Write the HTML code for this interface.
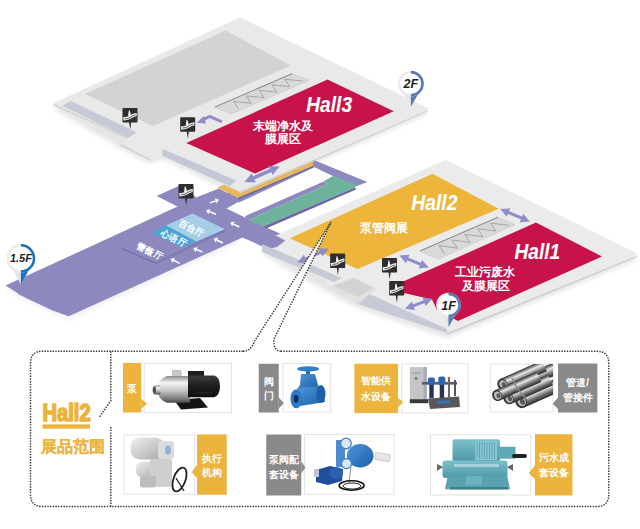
<!DOCTYPE html>
<html><head><meta charset="utf-8">
<style>
html,body{margin:0;padding:0;background:#fff;}
body{width:640px;height:529px;overflow:hidden;position:relative;font-family:"Liberation Sans",sans-serif;}
svg{position:absolute;left:0;top:0;}
</style></head><body>
<svg width="640" height="529" viewBox="0 0 640 529">
<defs><filter id="blur3" x="-10%" y="-10%" width="120%" height="130%"><feGaussianBlur stdDeviation="2.5"/></filter></defs>
<polygon points="53.75,106 240,20.5 427.5,111 427.5,114 240,196 162.5,159 150.5,164 120.5,148.5 54,109" fill="#000" opacity="0.10" filter="url(#blur3)"/>
<polygon points="270,242 445.8,164 636.5,257 636.5,260 447,338 357.5,308 325.8,291 262,254" fill="#000" opacity="0.10" filter="url(#blur3)"/>
<polygon points="5.5,289 177.5,210 242.5,241 68.75,320 17.5,297" fill="#000" opacity="0.06" filter="url(#blur3)"/>
<!-- ===== purple network ===== -->
<polygon points="5.5,285.5 177.5,206.6 156.6,196.1 183,184 196,197.6 219,188.5 234.5,197 239,201.6 226.6,208.6 245,217.5 285.2,236 285.2,241.4 276.6,246.9 242.5,237.5 68.75,316.25 52.5,310.5 48.75,308.75 18.75,294.5 17.5,293" fill="#8d89bf"/>
<polygon points="226,193 313.2,159.8 367.4,182 355.8,186.5 332.8,176 314.6,167.2 239,202.6" fill="#8d89bf"/>
<polygon points="245,216.2 323.5,181.4 327.35,184.15 247.5,220.8" fill="#8d89bf"/>
<polygon points="247.5,220.8 327.35,184.15 323.5,181.4 332.8,176 355.8,184.3 355,187.5 263.75,226.25" fill="#6db39b"/>
<polygon points="263.75,226.25 355,187.5 356,189.5 266,228.5" fill="#6b67a0"/>
<!-- rooms -->
<polygon points="192.5,213.4 225,229.3 196.3,241.4 166,225.5" fill="#a6cfe7"/>
<polygon points="166,225.5 196.3,241.4 182.7,247.5 152,233" fill="#4aa5d6"/>
<polygon points="152,233 182.7,247.5 155,262.5 121.25,247.5" fill="#8d89bf"/>
<polygon points="121.25,247.5 155,262.5 156,264 122,249" fill="#6e6aa6"/>
<polygon points="155,262.5 225,229.3 226,231 156,264" fill="#7d79b2"/>
<!-- yellow strip -->
<polygon points="217.5,187.5 300,152 313,161 313,166 238,198" fill="#e9b75b"/>
<polygon points="238,198 313,166 313,167.3 238.5,199.5" fill="#6b67a0"/>
<!-- ===== Top floor (Hall3) ===== -->
<polygon points="53.75,103 240,17.5 427.5,108 427.5,110.5 240,192 162.5,155.5 150.5,160.5 120.5,145 120.5,143.5 128,139 54,105.5" fill="#e9e9e9"/>
<polygon points="427.5,110.5 240,192 240,193.5 427.5,111.5" fill="#cfcfcf"/>
<polyline points="53.9,104.6 128,138.4" fill="none" stroke="#d0d0d0" stroke-width="1.3"/>
<polyline points="120.5,144.6 150.5,160" fill="none" stroke="#cdcdcd" stroke-width="1.3"/>
<polygon points="85,94 225.5,30.5 291,65.5 153,126" fill="#d3d3d3"/>
<polygon points="70.8,101.1 137,132.5 128,137.8 62.2,105.8" fill="#c6c9d6"/>
<polygon points="162.5,148.8 236,180.5 230,186.3 162.5,155.8" fill="#c4c7d4"/>
<polygon points="215,107 292,73.7 309.2,80.3 231.3,113.9" fill="#d9d9d9"/><line x1="215" y1="107" x2="292" y2="73.7" stroke="#8c8c8c" stroke-width="1.1"/><polyline points="292,73.7 309.2,80.3 231.3,113.9 215,107" fill="none" stroke="#c4c4c4" stroke-width="0.6"/><polyline points="238.19,108.84 233.60,101.47 251.10,103.27 246.41,95.93 264.00,97.70 259.22,90.40 276.91,92.13 272.02,84.86 289.82,86.56 284.83,79.32 302.73,80.99" fill="none" stroke="#8f8f8f" stroke-width="0.7"/>
<polygon points="186.25,143 327.5,79.5 393.75,111.25 255,173.5" fill="#c8124a"/>
<!-- ===== Hall2/Hall1 floor ===== -->
<polygon points="270,238 445.8,160 636.5,253 636.5,256 447,333 357.5,303.9 325.8,287 329,282 262,250" fill="#ebebeb"/>
<polygon points="240,230 245,217.5 263.5,229.3 285.2,240.6 277,247 268,249 242.5,237.5" fill="#8d89bf"/>
<polygon points="636.5,256 447,333 447,335 636.5,257.5" fill="#cfcfcf"/>
<polygon points="262,244 342,278 334,282 262,252" fill="#c6c9d6"/>
<polygon points="369.5,294 447,329 447,333 357.5,303.9" fill="#c6c9d6"/>
<polygon points="325.8,287 353.1,277.7 377.2,288.6 357.5,303.9" fill="#e2e2e2"/>
<polygon points="333,286 354,278 373,288 358,297" fill="#d3d3d3"/>
<polygon points="289.8,238.3 432.5,173.75 498.75,208.75 357.5,269" fill="#eeb53b"/>
<polygon points="403.75,281.25 536,222.5 602,256.5 458,321 437,310 432,299.5 403.75,293" fill="#c8124a"/>
<polygon points="420,251 497.8,217.3 515,224.7 438,259.1" fill="#d9d9d9"/><line x1="420" y1="251" x2="497.8" y2="217.3" stroke="#8c8c8c" stroke-width="1.1"/><polyline points="497.8,217.3 515,224.7 438,259.1 420,251" fill="none" stroke="#c4c4c4" stroke-width="0.6"/><polyline points="444.55,253.77 439.00,245.59 457.36,248.08 451.90,239.98 470.16,242.38 464.79,234.36 482.96,236.69 477.68,228.75 495.76,231.00 490.57,223.13 508.56,225.30" fill="none" stroke="#8f8f8f" stroke-width="0.7"/>

<g transform="translate(306.3,112) scale(0.87,1)"><text x="0" y="0" text-anchor="start" font-family="Liberation Sans, sans-serif" font-weight="bold" font-style="italic" font-size="22" fill="#fff" stroke="#fff" stroke-width="0.1">Hall3</text></g><text x="283" y="129.8" text-anchor="middle" font-family="Liberation Sans, sans-serif" font-weight="bold" font-style="normal" font-size="12.4" fill="#fff">末端净水及</text><text x="283" y="142.8" text-anchor="middle" font-family="Liberation Sans, sans-serif" font-weight="bold" font-style="normal" font-size="12.4" fill="#fff">膜展区</text><g transform="translate(411.2,210) scale(0.86,1)"><text x="0" y="0" text-anchor="start" font-family="Liberation Sans, sans-serif" font-weight="bold" font-style="italic" font-size="22.5" fill="#fff" stroke="#fff" stroke-width="0.1">Hall2</text></g><text x="384" y="232.2" text-anchor="middle" font-family="Liberation Sans, sans-serif" font-weight="bold" font-style="normal" font-size="12.4" fill="#fff">泵管阀展</text><g transform="translate(514.5,259) scale(0.85,1)"><text x="0" y="0" text-anchor="start" font-family="Liberation Sans, sans-serif" font-weight="bold" font-style="italic" font-size="22.5" fill="#fff" stroke="#fff" stroke-width="0.1">Hall1</text></g><text x="485" y="275.8" text-anchor="middle" font-family="Liberation Sans, sans-serif" font-weight="bold" font-style="normal" font-size="12.4" fill="#fff">工业污废水</text><text x="485.5" y="289.6" text-anchor="middle" font-family="Liberation Sans, sans-serif" font-weight="bold" font-style="normal" font-size="12.4" fill="#fff">及膜展区</text><g transform="translate(191.5,228) rotate(27)"><text x="0" y="3.3" text-anchor="middle" font-family="Liberation Sans, sans-serif" font-weight="bold" font-style="normal" font-size="9" fill="#fff">百合厅</text></g><g transform="translate(174,238) rotate(27)"><text x="0" y="3.3" text-anchor="middle" font-family="Liberation Sans, sans-serif" font-weight="bold" font-style="normal" font-size="9" fill="#fff">心语厅</text></g><g transform="translate(150,251) rotate(27)"><text x="0" y="3.3" text-anchor="middle" font-family="Liberation Sans, sans-serif" font-weight="bold" font-style="normal" font-size="9" fill="#fff">蕾薇厅</text></g><line x1="209.9" y1="202.9" x2="215.69" y2="200.93" stroke="#fff" stroke-width="1.5"/><polygon points="219,199.8 216.59,203.58 214.78,198.28" fill="#fff"/><line x1="216" y1="214.2" x2="209.37" y2="211.65" stroke="#fff" stroke-width="1.5"/><polygon points="206.1,210.4 210.37,209.04 208.36,214.27" fill="#fff"/><line x1="239.4" y1="227" x2="233.44" y2="224.05" stroke="#fff" stroke-width="1.5"/><polygon points="230.3,222.5 234.68,221.54 232.20,226.56" fill="#fff"/><line x1="222.8" y1="243" x2="216.82" y2="239.98" stroke="#fff" stroke-width="1.5"/><polygon points="213.7,238.4 218.09,237.48 215.56,242.48" fill="#fff"/><line x1="202.4" y1="252" x2="196.53" y2="249.55" stroke="#fff" stroke-width="1.5"/><polygon points="193.3,248.2 197.61,246.96 195.45,252.13" fill="#fff"/><line x1="179.7" y1="263.4" x2="173.72" y2="260.38" stroke="#fff" stroke-width="1.5"/><polygon points="170.6,258.8 174.99,257.88 172.46,262.88" fill="#fff"/><line x1="251.82" y1="178.78" x2="272.38" y2="169.72" stroke="#8f8cca" stroke-width="3.6"/><polygon points="279.70,166.50 272.56,175.11 268.53,165.95" fill="#8f8cca"/><polygon points="244.50,182.00 255.67,182.55 251.64,173.39" fill="#8f8cca"/><line x1="506.83" y1="211.80" x2="523.17" y2="218.70" stroke="#8f8cca" stroke-width="3"/><polygon points="529.80,221.50 519.76,222.14 523.26,213.85" fill="#8f8cca"/><polygon points="500.20,209.00 506.74,216.65 510.24,208.36" fill="#8f8cca"/><line x1="406.07" y1="258.31" x2="422.08" y2="264.79" stroke="#8f8cca" stroke-width="3"/><polygon points="428.75,267.50 418.72,268.29 422.10,259.95" fill="#8f8cca"/><polygon points="399.40,255.60 406.05,263.15 409.43,254.81" fill="#8f8cca"/><line x1="411.77" y1="306.29" x2="425.73" y2="301.21" stroke="#8f8cca" stroke-width="3"/><polygon points="432.50,298.75 425.58,306.05 422.50,297.60" fill="#8f8cca"/><polygon points="405.00,308.75 415.00,309.90 411.92,301.45" fill="#8f8cca"/><line x1="304.09" y1="259.60" x2="322.16" y2="251.65" stroke="#8f8cca" stroke-width="3"/><polygon points="328.75,248.75 322.32,256.49 318.70,248.26" fill="#8f8cca"/><polygon points="297.50,262.50 307.55,262.99 303.93,254.76" fill="#8f8cca"/><polyline points="201,120.5 209.7,116.5 221.9,121.9" fill="none" stroke="#8f8cca" stroke-width="3"/><polygon points="196.6,123 204,116 206,123.5" fill="#8f8cca"/><g transform="translate(122.5,108) scale(1.000,1.000)"><polygon points="6.5,14 8.7,14 7.7,21.5" fill="#2e2e2e"/><rect x="0" y="0" width="15" height="14.5" rx="0.8" fill="#2e2e2e"/><path d="M6.3,2.6 L7.1,2.6 L8.6,7.4 L5.6,8.3 Z" fill="#fff"/><path d="M0.8,10.9 C3.5,10.4 5.5,11 8,9.1 C10,7.5 12,6.5 14.2,6.6" fill="none" stroke="#f2f2f2" stroke-width="3.2"/><path d="M2.2,10.8 C4,10.5 5.8,10.9 8,9.3 C10,7.8 11.5,7.1 13.2,7" fill="none" stroke="#2e2e2e" stroke-width="0.8"/></g><g transform="translate(180.2,117.2) scale(1.000,1.000)"><polygon points="6.5,14 8.7,14 7.7,21.5" fill="#2e2e2e"/><rect x="0" y="0" width="15" height="14.5" rx="0.8" fill="#2e2e2e"/><path d="M6.3,2.6 L7.1,2.6 L8.6,7.4 L5.6,8.3 Z" fill="#fff"/><path d="M0.8,10.9 C3.5,10.4 5.5,11 8,9.1 C10,7.5 12,6.5 14.2,6.6" fill="none" stroke="#f2f2f2" stroke-width="3.2"/><path d="M2.2,10.8 C4,10.5 5.8,10.9 8,9.3 C10,7.8 11.5,7.1 13.2,7" fill="none" stroke="#2e2e2e" stroke-width="0.8"/></g><g transform="translate(178.5,184) scale(1.000,1.000)"><polygon points="6.5,14 8.7,14 7.7,21.5" fill="#2e2e2e"/><rect x="0" y="0" width="15" height="14.5" rx="0.8" fill="#2e2e2e"/><path d="M6.3,2.6 L7.1,2.6 L8.6,7.4 L5.6,8.3 Z" fill="#fff"/><path d="M0.8,10.9 C3.5,10.4 5.5,11 8,9.1 C10,7.5 12,6.5 14.2,6.6" fill="none" stroke="#f2f2f2" stroke-width="3.2"/><path d="M2.2,10.8 C4,10.5 5.8,10.9 8,9.3 C10,7.8 11.5,7.1 13.2,7" fill="none" stroke="#2e2e2e" stroke-width="0.8"/></g><g transform="translate(330.2,253.6) scale(1.000,1.000)"><polygon points="6.5,14 8.7,14 7.7,21.5" fill="#2e2e2e"/><rect x="0" y="0" width="15" height="14.5" rx="0.8" fill="#2e2e2e"/><path d="M6.3,2.6 L7.1,2.6 L8.6,7.4 L5.6,8.3 Z" fill="#fff"/><path d="M0.8,10.9 C3.5,10.4 5.5,11 8,9.1 C10,7.5 12,6.5 14.2,6.6" fill="none" stroke="#f2f2f2" stroke-width="3.2"/><path d="M2.2,10.8 C4,10.5 5.8,10.9 8,9.3 C10,7.8 11.5,7.1 13.2,7" fill="none" stroke="#2e2e2e" stroke-width="0.8"/></g><g transform="translate(382,258) scale(1.000,1.000)"><polygon points="6.5,14 8.7,14 7.7,21.5" fill="#2e2e2e"/><rect x="0" y="0" width="15" height="14.5" rx="0.8" fill="#2e2e2e"/><path d="M6.3,2.6 L7.1,2.6 L8.6,7.4 L5.6,8.3 Z" fill="#fff"/><path d="M0.8,10.9 C3.5,10.4 5.5,11 8,9.1 C10,7.5 12,6.5 14.2,6.6" fill="none" stroke="#f2f2f2" stroke-width="3.2"/><path d="M2.2,10.8 C4,10.5 5.8,10.9 8,9.3 C10,7.8 11.5,7.1 13.2,7" fill="none" stroke="#2e2e2e" stroke-width="0.8"/></g><g transform="translate(389.2,281) scale(1.000,1.000)"><polygon points="6.5,14 8.7,14 7.7,21.5" fill="#2e2e2e"/><rect x="0" y="0" width="15" height="14.5" rx="0.8" fill="#2e2e2e"/><path d="M6.3,2.6 L7.1,2.6 L8.6,7.4 L5.6,8.3 Z" fill="#fff"/><path d="M0.8,10.9 C3.5,10.4 5.5,11 8,9.1 C10,7.5 12,6.5 14.2,6.6" fill="none" stroke="#f2f2f2" stroke-width="3.2"/><path d="M2.2,10.8 C4,10.5 5.8,10.9 8,9.3 C10,7.8 11.5,7.1 13.2,7" fill="none" stroke="#2e2e2e" stroke-width="0.8"/></g><g><path d="M403.86,93.94 L410.90,106.80 L417.94,93.94 Z" fill="#e4e4e4"/><path d="M410.90,93.94 L410.90,106.80 L418.58,93.30 Z" fill="#5a7cb4"/><circle cx="410.9" cy="83.7" r="11.60" fill="#fff" stroke="#ebebeb" stroke-width="2.4"/><path d="M410.90,72.10 A11.60,11.60 0 0 1 410.90,95.30" fill="none" stroke="#5a7cb4" stroke-width="2.6"/><text x="410.9" y="88.20" text-anchor="middle" font-family="Liberation Sans, sans-serif" font-weight="bold" font-style="italic" font-size="12.5" fill="#222">2F</text></g><g><path d="M13.03,269.84 L20.90,284.40 L28.77,269.84 Z" fill="#e4e4e4"/><path d="M20.90,269.84 L20.90,284.40 L29.48,269.12 Z" fill="#1b74bb"/><circle cx="20.9" cy="258.4" r="13.10" fill="#fff" stroke="#ebebeb" stroke-width="2.4"/><path d="M20.90,245.30 A13.10,13.10 0 0 1 20.90,271.50" fill="none" stroke="#1b74bb" stroke-width="2.6"/><text x="20.9" y="262.36" text-anchor="middle" font-family="Liberation Sans, sans-serif" font-weight="bold" font-style="italic" font-size="11" fill="#222">1.5F</text></g><g><path d="M441.74,314.84 L448.50,327.00 L455.26,314.84 Z" fill="#e4e4e4"/><path d="M448.50,314.84 L448.50,327.00 L455.88,314.23 Z" fill="#5a7cb4"/><circle cx="448.5" cy="305" r="11.10" fill="#fff" stroke="#ebebeb" stroke-width="2.4"/><path d="M448.50,293.90 A11.10,11.10 0 0 1 448.50,316.10" fill="none" stroke="#5a7cb4" stroke-width="2.6"/><text x="448.5" y="309.50" text-anchor="middle" font-family="Liberation Sans, sans-serif" font-weight="bold" font-style="italic" font-size="12.5" fill="#222">1F</text></g>
<polygon points="331,222.2 254.3,341.5 250,351.5 276,351.5 274,339" fill="#fff"/><path d="M243,351.25 L42.5,351.25 Q30.5,351.25 30.5,363.25 L30.5,494.5 Q30.5,506.5 42.5,506.5 L596.75,506.5 Q608.75,506.5 608.75,494.5 L608.75,363.25 Q608.75,351.25 596.75,351.25 L281,351.25" stroke="#3a3a3a" stroke-width="1.5" stroke-dasharray="1.4 1.3" fill="none"/><path d="M243,351.25 Q251,351.25 254.3,341.5 L331,222.2" stroke="#3a3a3a" stroke-width="1.5" stroke-dasharray="1.4 1.3" fill="none"/><path d="M281,351.25 Q273,351.25 274,339 L331,222.2" stroke="#3a3a3a" stroke-width="1.5" stroke-dasharray="1.4 1.3" fill="none"/><path d="M110.8,351.25 L110.8,400.4 L99.3,417.4" stroke="#3a3a3a" stroke-width="1.5" stroke-dasharray="1.4 1.3" fill="none"/><path d="M110.8,427 L110.8,506.5" stroke="#3a3a3a" stroke-width="1.5" stroke-dasharray="1.4 1.3" fill="none"/><g transform="translate(42.5,421.25) scale(0.84,1)"><text x="0" y="0" text-anchor="start" font-family="Liberation Sans, sans-serif" font-weight="bold" font-size="24" fill="#ecb43c" stroke="#ecb43c" stroke-width="1.6">Hall2</text></g><rect x="42.5" y="424.4" width="47.5" height="4.3" fill="#ecb43c"/><text x="73.4" y="451.8" text-anchor="middle" font-family="Liberation Sans, sans-serif" font-weight="bold" font-size="15.5" fill="#ecb43c" stroke="#ecb43c" stroke-width="0.2">展品范围</text><rect x="144.25" y="363.5" width="87.25" height="49" fill="#fff" stroke="#e3e3e3" stroke-width="1"/><rect x="283.0" y="363.5" width="47.75" height="48.5" fill="#fff" stroke="#e3e3e3" stroke-width="1"/><rect x="401.75" y="363.8" width="66.25" height="49.19999999999999" fill="#fff" stroke="#e3e3e3" stroke-width="1"/><rect x="490.25" y="364.0" width="62.85000000000002" height="48.0" fill="#fff" stroke="#e3e3e3" stroke-width="1"/><rect x="124.0" y="434.9" width="70.75" height="59.35000000000002" fill="#fff" stroke="#e3e3e3" stroke-width="1"/><rect x="304.4" y="434.4" width="89.60000000000002" height="59.900000000000034" fill="#fff" stroke="#e3e3e3" stroke-width="1"/><rect x="430.5" y="434.75" width="100.25" height="60.25" fill="#fff" stroke="#e3e3e3" stroke-width="1"/><defs>
<linearGradient id="steel" x1="0" y1="0" x2="0" y2="1"><stop offset="0" stop-color="#8a8a8a"/><stop offset="0.25" stop-color="#f5f5f5"/><stop offset="0.55" stop-color="#c4c4c4"/><stop offset="0.85" stop-color="#7a7a7a"/><stop offset="1" stop-color="#4a4a4a"/></linearGradient>
<linearGradient id="blk" x1="0" y1="0" x2="0" y2="1"><stop offset="0" stop-color="#3a3a3a"/><stop offset="0.5" stop-color="#1c1c1c"/><stop offset="1" stop-color="#0e0e0e"/></linearGradient>
<linearGradient id="blue" x1="0" y1="0" x2="1" y2="1"><stop offset="0" stop-color="#4d97da"/><stop offset="1" stop-color="#1d5fa8"/></linearGradient>
<linearGradient id="teal" x1="0" y1="0" x2="0" y2="1"><stop offset="0" stop-color="#7cc0cc"/><stop offset="1" stop-color="#4e98a6"/></linearGradient>
<linearGradient id="lgray" x1="0" y1="0" x2="1" y2="1"><stop offset="0" stop-color="#f0f0f0"/><stop offset="1" stop-color="#a9a9a9"/></linearGradient>
<linearGradient id="pipe" x1="0" y1="0" x2="0" y2="1"><stop offset="0" stop-color="#2e2e2e"/><stop offset="0.35" stop-color="#e8e8e8"/><stop offset="0.7" stop-color="#707070"/><stop offset="1" stop-color="#2a2a2a"/></linearGradient>
</defs><polygon points="174,400 200,398 208,407.5 181,409.5" fill="#151515"/><rect x="172.5" y="370.4" width="8.5" height="6.5" rx="1" fill="#c9c9c9" stroke="#777" stroke-width="0.4"/><path d="M167,376 L190,376 L190,402.8 L167,402.8 Q157.5,399 157.5,389.4 Q157.5,379.5 167,376 Z" fill="url(#steel)"/><rect x="153.5" y="385.5" width="7" height="9" rx="1.5" fill="url(#steel)"/><ellipse cx="154.3" cy="390" rx="1.6" ry="3.4" fill="#4a4a4a"/><rect x="188" y="371" width="16" height="6" fill="#1e1e1e"/><path d="M188,375.5 L214,375.5 Q220,377 220,386.3 Q220,395.5 214,397.2 L188,397.2 Z" fill="url(#blk)"/><line x1="195" y1="379" x2="212" y2="379" stroke="#444" stroke-width="0.5"/><line x1="195" y1="393" x2="212" y2="393" stroke="#444" stroke-width="0.5"/><ellipse cx="308.1" cy="368.9" rx="11" ry="2.6" fill="#2f7fc8"/><rect x="306" y="370.5" width="4" height="5" fill="#2a6fb5"/><path d="M301,374 L315,374 L318,385 L320,388 L298,388 L300,385 Z" fill="url(#blue)"/><path d="M297,388 L322,386 L325,402 L300,406 Z" fill="url(#blue)"/><ellipse cx="321" cy="394" rx="4.5" ry="9" fill="#1f5ea6"/><ellipse cx="296.25" cy="398.75" rx="5.8" ry="9.4" fill="#2d7bc6"/><ellipse cx="296" cy="398.75" rx="2.4" ry="4" fill="#0f2f5a"/><rect x="409.8" y="367.1" width="17" height="32.3" fill="#c3c6c9"/><rect x="423.5" y="367.1" width="3.3" height="32.3" fill="#a9adb1"/><rect x="409.8" y="399.2" width="18.5" height="4" fill="#3a3a3a"/><line x1="412" y1="373" x2="421" y2="373" stroke="#8c8c8c" stroke-width="0.8"/><circle cx="416" cy="378.5" r="1.4" fill="#7a7a7a"/><rect x="422" y="381.9" width="35" height="2.7" fill="#5a5d62"/><rect x="427.9" y="377.5" width="7" height="7.7" rx="2" fill="#2f62b3"/><rect x="438.3" y="376.4" width="7" height="8.8" rx="2" fill="#2f62b3"/><rect x="429.3" y="385" width="4.4" height="13" fill="#26324e"/><rect x="439.7" y="385" width="4.4" height="13" fill="#26324e"/><rect x="448" y="379" width="2" height="18" fill="#666"/><rect x="454" y="380" width="2" height="16" fill="#555"/><circle cx="449" cy="378" r="1.3" fill="#c0603a"/><polygon points="428,398.5 459,396.5 460,407 430,409" fill="#585858"/><rect x="437" y="400.5" width="13" height="3" fill="#3b6fc0"/><clipPath id="pclip"><rect x="490.5" y="364" width="62.5" height="48"/></clipPath><g clip-path="url(#pclip)"><g transform="translate(515,386.5) rotate(-24)"><rect x="0" y="-6.3" width="46" height="12.6" fill="url(#pipe)"/><ellipse cx="0" cy="0" rx="5.35" ry="6.3" fill="#3a3a3a"/><ellipse cx="0.6" cy="0.3" rx="3.78" ry="4.54" fill="#bdbdbd"/><ellipse cx="1.2" cy="0.8" rx="2.20" ry="2.83" fill="#5a5a5a"/></g><g transform="translate(502.5,384.5) rotate(-24)"><rect x="0" y="-6" width="46" height="12" fill="url(#pipe)"/><ellipse cx="0" cy="0" rx="5.10" ry="6" fill="#3a3a3a"/><ellipse cx="0.6" cy="0.3" rx="3.60" ry="4.32" fill="#bdbdbd"/><ellipse cx="1.2" cy="0.8" rx="2.10" ry="2.70" fill="#5a5a5a"/></g><g transform="translate(521,401.5) rotate(-24)"><rect x="0" y="-6.8" width="46" height="13.6" fill="url(#pipe)"/><ellipse cx="0" cy="0" rx="5.78" ry="6.8" fill="#3a3a3a"/><ellipse cx="0.6" cy="0.3" rx="4.08" ry="4.90" fill="#bdbdbd"/><ellipse cx="1.2" cy="0.8" rx="2.38" ry="3.06" fill="#5a5a5a"/></g><g transform="translate(508.5,398.5) rotate(-24)"><rect x="0" y="-5.9" width="46" height="11.8" fill="url(#pipe)"/><ellipse cx="0" cy="0" rx="5.02" ry="5.9" fill="#3a3a3a"/><ellipse cx="0.6" cy="0.3" rx="3.54" ry="4.25" fill="#bdbdbd"/><ellipse cx="1.2" cy="0.8" rx="2.06" ry="2.66" fill="#5a5a5a"/></g><g transform="translate(497,395.5) rotate(-24)"><rect x="0" y="-5.7" width="46" height="11.4" fill="url(#pipe)"/><ellipse cx="0" cy="0" rx="4.84" ry="5.7" fill="#3a3a3a"/><ellipse cx="0.6" cy="0.3" rx="3.42" ry="4.10" fill="#bdbdbd"/><ellipse cx="1.2" cy="0.8" rx="1.99" ry="2.56" fill="#5a5a5a"/></g><path d="M512,378 Q518,392 526,398" fill="none" stroke="#8a8a8a" stroke-width="1.5"/></g><rect x="130.5" y="437.5" width="34" height="22" rx="9" fill="url(#lgray)"/><rect x="158" y="441" width="16" height="18" rx="3" fill="#dcdcdc"/><ellipse cx="168" cy="450" rx="3" ry="4.5" fill="#8fb4d8"/><rect x="135.75" y="461.5" width="24" height="16" rx="7" fill="url(#lgray)"/><rect x="150" y="459" width="22" height="28" rx="2" fill="#cfcfcf"/><rect x="140" y="476" width="16" height="11.5" rx="2" fill="#bdbdbd"/><ellipse cx="179.5" cy="479.5" rx="6" ry="12.5" fill="none" stroke="#222" stroke-width="1.8" transform="rotate(20 179.5 479.5)"/><line x1="176" y1="478" x2="184" y2="491" stroke="#222" stroke-width="1.4"/><rect x="375" y="453.5" width="15" height="7" rx="1" fill="#e6e6e6" stroke="#aaa" stroke-width="0.5" transform="rotate(8 382 457)"/><ellipse cx="360.2" cy="455.8" rx="13.3" ry="11.7" fill="url(#blue)"/><rect x="336" y="440" width="9" height="27" rx="1" fill="#4e8ad0"/><circle cx="346" cy="443.5" r="5.3" fill="#dce6f0" stroke="#3f7cc4" stroke-width="1.2"/><circle cx="346.5" cy="463.6" r="5" fill="#dce6f0" stroke="#3f7cc4" stroke-width="1.2"/><line x1="351" y1="466" x2="349" y2="483" stroke="#999" stroke-width="1"/><ellipse cx="351.6" cy="485.5" rx="12.5" ry="4.7" fill="none" stroke="#111" stroke-width="1.6"/><ellipse cx="352" cy="486" rx="9" ry="3" fill="none" stroke="#222" stroke-width="1"/><path d="M316,470 L330,466 L343,469 L342,481 L328,485 L316,482 Z" fill="#1f4f9a"/><ellipse cx="336" cy="473" rx="7" ry="6" fill="#2b5fb0"/><rect x="314" y="469" width="5" height="8" fill="#bcc8d6"/><rect x="452.5" y="439.25" width="47.5" height="22" rx="2" fill="url(#teal)"/><rect x="475" y="441" width="22" height="19" fill="#88c8d2"/><line x1="477.0" y1="442" x2="477.0" y2="459" stroke="#5a9aa6" stroke-width="0.8"/><line x1="479.5" y1="442" x2="479.5" y2="459" stroke="#5a9aa6" stroke-width="0.8"/><line x1="482.0" y1="442" x2="482.0" y2="459" stroke="#5a9aa6" stroke-width="0.8"/><line x1="484.5" y1="442" x2="484.5" y2="459" stroke="#5a9aa6" stroke-width="0.8"/><line x1="487.0" y1="442" x2="487.0" y2="459" stroke="#5a9aa6" stroke-width="0.8"/><line x1="489.5" y1="442" x2="489.5" y2="459" stroke="#5a9aa6" stroke-width="0.8"/><line x1="492.0" y1="442" x2="492.0" y2="459" stroke="#5a9aa6" stroke-width="0.8"/><line x1="494.5" y1="442" x2="494.5" y2="459" stroke="#5a9aa6" stroke-width="0.8"/><rect x="497.5" y="446.75" width="18" height="12" fill="#5fa8b5"/><rect x="512" y="454" width="15" height="4" rx="2" fill="#222"/><rect x="442.5" y="460.5" width="65" height="17.5" rx="3" fill="url(#teal)"/><rect x="454" y="464" width="45" height="3" fill="#a6d3da"/><polygon points="437,464 443,467 437,471" fill="#666"/><polygon points="513,464 507,467 513,471" fill="#666"/><path d="M447.5,477 L507.5,477 L510,489.25 L445,489.25 Z" fill="#5aa2b0"/><rect x="466" y="476" width="16" height="9" fill="#6cb3bf"/><rect x="450" y="487" width="58" height="2.5" fill="#3e7f8c"/><rect x="123" y="363" width="18.25" height="49.5" fill="#ecb43c"/><polygon points="141.25,398.75 147,403.75 141.25,408.75" fill="#ecb43c"/><text x="132.125" y="392.1" text-anchor="middle" font-family="Liberation Sans, sans-serif" font-weight="bold" font-size="10" fill="#fff">泵</text><rect x="258.75" y="363.75" width="20.0" height="48.75" fill="#8a8a8a"/><polygon points="278.75,397.5 283.75,403.1 278.75,408.75" fill="#8a8a8a"/><text x="268.75" y="384.53" text-anchor="middle" font-family="Liberation Sans, sans-serif" font-weight="bold" font-size="10" fill="#fff">阀</text><text x="268.75" y="398.93" text-anchor="middle" font-family="Liberation Sans, sans-serif" font-weight="bold" font-size="10" fill="#fff">门</text><rect x="354.4" y="363.75" width="43.700000000000045" height="49.35000000000002" fill="#ecb43c"/><polygon points="398.1,398.1 403.1,401.9 398.1,407.5" fill="#ecb43c"/><text x="376.25" y="383.78" text-anchor="middle" font-family="Liberation Sans, sans-serif" font-weight="bold" font-size="10" fill="#fff">智能供</text><text x="376.25" y="400.28" text-anchor="middle" font-family="Liberation Sans, sans-serif" font-weight="bold" font-size="10" fill="#fff">水设备</text><rect x="558" y="363.5" width="39.39999999999998" height="49.0" fill="#8a8a8a"/><polygon points="558,397.6 552.75,403.75 558,409" fill="#8a8a8a"/><text x="577.7" y="385.55" text-anchor="middle" font-family="Liberation Sans, sans-serif" font-weight="bold" font-size="10" fill="#fff">管道/</text><text x="577.7" y="401.25" text-anchor="middle" font-family="Liberation Sans, sans-serif" font-weight="bold" font-size="10" fill="#fff">管接件</text><rect x="197" y="434.4" width="29.75" height="60.35000000000002" fill="#ecb43c"/><polygon points="197,465 191.75,472 197,478" fill="#ecb43c"/><text x="211.875" y="461.98" text-anchor="middle" font-family="Liberation Sans, sans-serif" font-weight="bold" font-size="10" fill="#fff">执行</text><text x="211.875" y="475.58" text-anchor="middle" font-family="Liberation Sans, sans-serif" font-weight="bold" font-size="10" fill="#fff">机构</text><rect x="266.25" y="434.5" width="35.0" height="61.0" fill="#8a8a8a"/><polygon points="301.25,461.5 305.5,467.5 301.25,473.5" fill="#8a8a8a"/><text x="283.75" y="463.0" text-anchor="middle" font-family="Liberation Sans, sans-serif" font-weight="bold" font-size="10" fill="#fff">泵阀配</text><text x="283.75" y="478.0" text-anchor="middle" font-family="Liberation Sans, sans-serif" font-weight="bold" font-size="10" fill="#fff">套设备</text><rect x="535" y="434.25" width="37.5" height="61.25" fill="#ecb43c"/><polygon points="535,465.5 528.75,473 535,479.25" fill="#ecb43c"/><text x="553.75" y="460.98" text-anchor="middle" font-family="Liberation Sans, sans-serif" font-weight="bold" font-size="10" fill="#fff">污水成</text><text x="553.75" y="475.98" text-anchor="middle" font-family="Liberation Sans, sans-serif" font-weight="bold" font-size="10" fill="#fff">套设备</text>
</svg>
</body></html>
